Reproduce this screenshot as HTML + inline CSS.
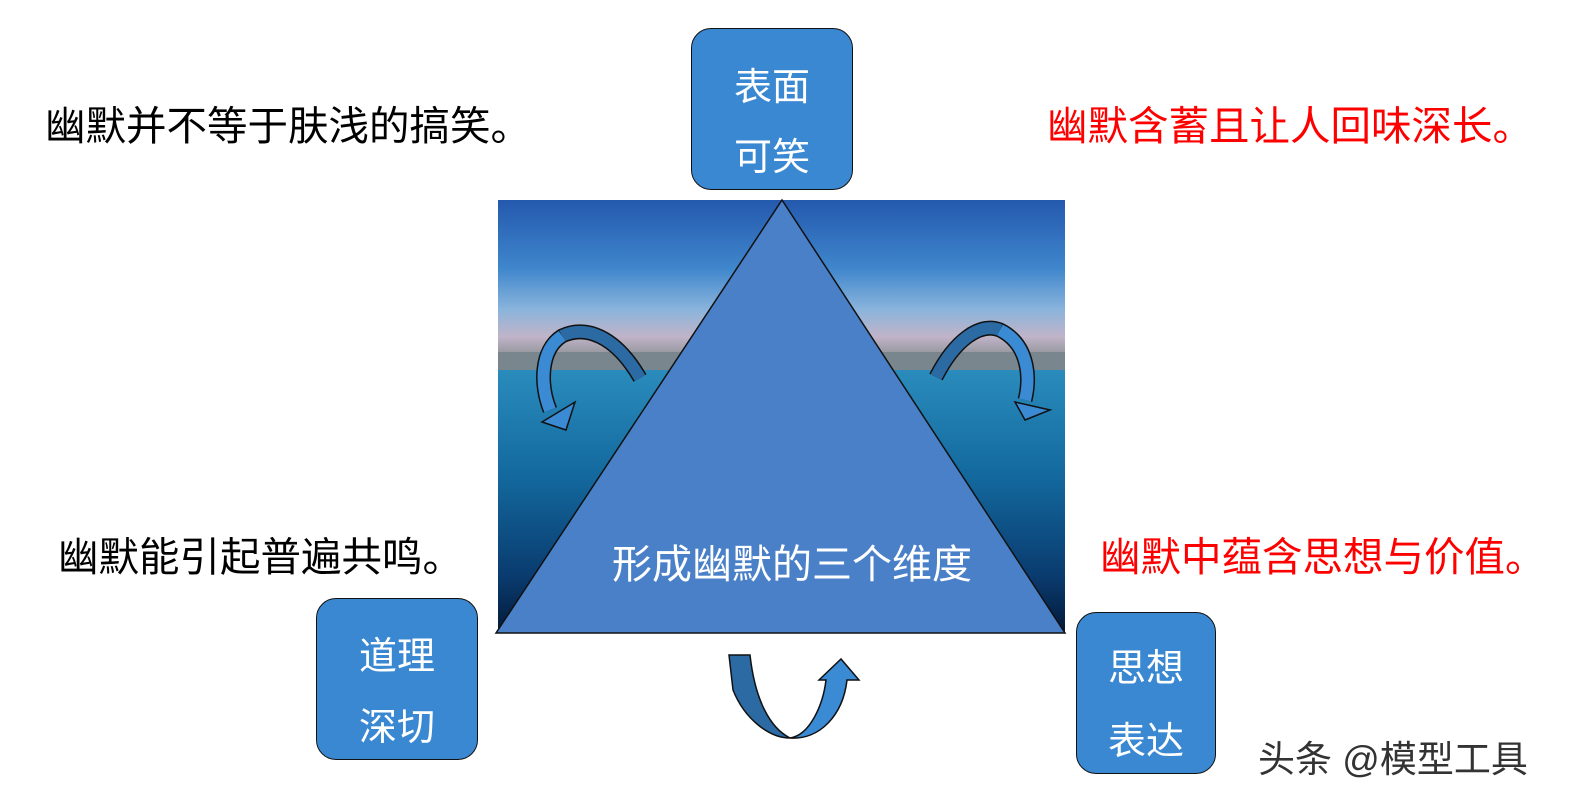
<!DOCTYPE html>
<html><head><meta charset="utf-8"><style>
body{margin:0;width:1582px;height:810px;background:#fff;position:relative;overflow:hidden;font-family:"Liberation Sans","Noto Sans CJK SC",sans-serif}
.t{position:absolute;font-size:40.5px;white-space:nowrap;line-height:1}
.box{position:absolute;background:#3a88d2;border:1.5px solid #111;border-radius:20px;color:#fff;font-size:38px;text-align:center;box-sizing:border-box;line-height:1}
.box div{position:absolute;left:0;right:0}
</style></head><body>
<svg width="1582" height="810" style="position:absolute;left:0;top:0">
<defs>
<linearGradient id="sky" x1="0" y1="0" x2="0" y2="1">
<stop offset="0" stop-color="#2459ae"/>
<stop offset="0.45" stop-color="#3f86cc"/>
<stop offset="0.72" stop-color="#8ab4dc"/>
<stop offset="0.9" stop-color="#c0b4c8"/>
<stop offset="1" stop-color="#9a9aa2"/>
</linearGradient>
<linearGradient id="sea" x1="0" y1="0" x2="0" y2="1">
<stop offset="0" stop-color="#2a8cbc"/>
<stop offset="0.4" stop-color="#13699e"/>
<stop offset="0.78" stop-color="#0a3c70"/>
<stop offset="1" stop-color="#031a3a"/>
</linearGradient>
</defs>
<rect x="498" y="200" width="567" height="152" fill="url(#sky)"/>
<rect x="498" y="352" width="567" height="18" fill="#7a868e"/>
<rect x="498" y="370" width="567" height="263" fill="url(#sea)"/>
<polygon points="782,200 1065,633 496,633" fill="#4a80c8" stroke="#111" stroke-width="1.5"/>
<path d="M640,378 C615,335 585,325 562,336 C540,350 540,385 550,410" fill="none" stroke="#111" stroke-width="15"/>
<path d="M640,378 C615,335 585,325 562,336" fill="none" stroke="#2c6aa4" stroke-width="12"/>
<path d="M562,336 C540,350 540,385 550,410" fill="none" stroke="#3a8ad4" stroke-width="12"/>
<polygon points="542,422 566,430 575,402" fill="#3a8ad4" stroke="#111" stroke-width="1.5"/>
<path d="M936,377 C955,340 980,322 1000,330 C1030,345 1030,380 1025,400" fill="none" stroke="#111" stroke-width="15"/>
<path d="M936,377 C955,340 980,322 1000,330" fill="none" stroke="#2c6aa4" stroke-width="12"/>
<path d="M1000,330 C1030,345 1030,380 1025,400" fill="none" stroke="#3a8ad4" stroke-width="12"/>
<polygon points="1015,402 1050,410 1025,420" fill="#3a8ad4" stroke="#111" stroke-width="1.5"/>
<path d="M729,655 L750,655 C755,700 770,728 790,738 C770,738 745,720 733,690 Z" fill="#2c6aa4" stroke="#111" stroke-width="1.5"/>
<path d="M790,738 C810,735 823,705 826,680 L819,680 L841,659 L859,680 L847,680 C843,715 820,740 790,738 Z" fill="#3a8ad4" stroke="#111" stroke-width="1.5"/>
</svg>
<div class="t" style="left:612px;top:545px;color:#fff;font-size:40px">形成幽默的三个维度</div>
<div class="box" style="left:691px;top:28px;width:162px;height:162px"><div style="top:40px">表面</div><div style="top:110px">可笑</div></div>
<div class="box" style="left:316px;top:598px;width:162px;height:162px"><div style="top:39px">道理</div><div style="top:110px">深切</div></div>
<div class="box" style="left:1076px;top:612px;width:140px;height:162px"><div style="top:37px">思想</div><div style="top:110px">表达</div></div>
<div class="t" style="left:45px;top:106px">幽默并不等于肤浅的搞笑。</div>
<div class="t" style="left:1047px;top:106px;color:#f00">幽默含蓄且让人回味深长。</div>
<div class="t" style="left:58px;top:537px">幽默能引起普遍共鸣。</div>
<div class="t" style="left:1100px;top:537px;color:#f00">幽默中蕴含思想与价值。</div>
<div class="t" style="left:1258px;top:741px;font-size:37px;color:#333">头条 @模型工具</div>
</body></html>
